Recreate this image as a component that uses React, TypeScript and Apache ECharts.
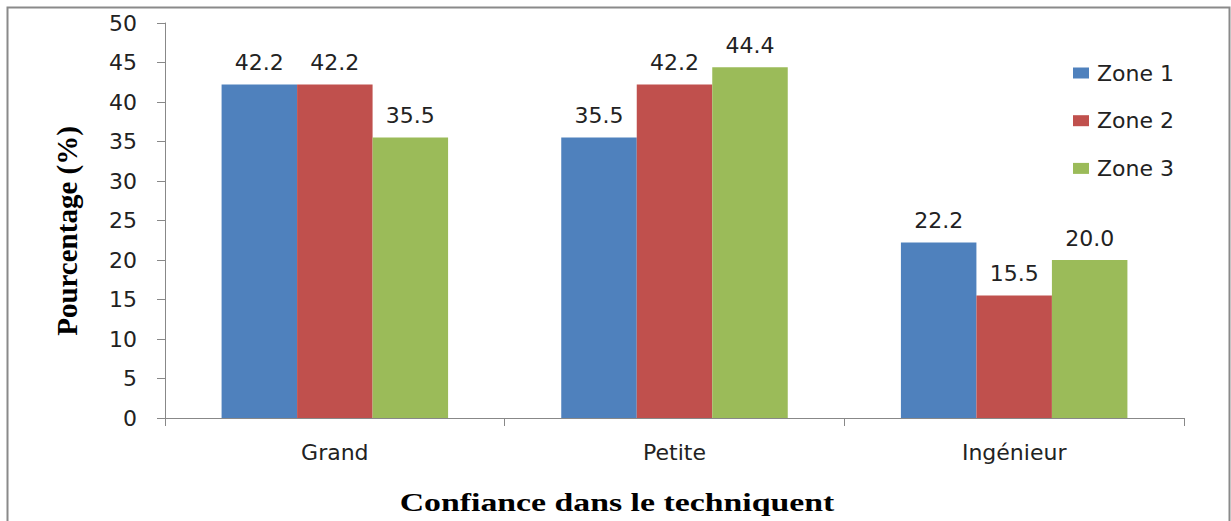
import React, { useEffect, useRef } from "react";
import * as echarts from "echarts";

const categories = ["Grand", "Petite", "Ingénieur"];
const seriesNames = ["Zone 1", "Zone 2", "Zone 3"];
const zone1 = [42.2, 35.5, 22.2];
const zone2 = [42.2, 42.2, 15.5];
const zone3 = [35.5, 44.4, 20.0];
const colors = ["#4F81BD", "#C0504D", "#9BBB59"];
const yTitle = "Pourcentage (%)";
const xTitle = "Confiance dans le techniquent";

const SANS = "DejaVu Sans";
const SERIF = "Liberation Serif";

export default function App() {
  const ref = useRef<HTMLDivElement>(null);
  useEffect(() => {
    if (!ref.current) return;
    const chart = echarts.init(ref.current, undefined, { renderer: "svg" });
    const values = [zone1, zone2, zone3];
    chart.setOption({
      animation: false,
      backgroundColor: "#ffffff",
      grid: { left: 165, right: 47, top: 23, bottom: 103 },
      legend: {
        orient: "vertical",
        left: 1073,
        top: 62,
        padding: 0,
        itemWidth: 16,
        itemHeight: 11,
        itemGap: 25.7,
        icon: "rect",
        textStyle: { fontFamily: SANS, fontSize: 22, color: "#222", lineHeight: 20, padding: [0, 0, 0, 3] },
        data: seriesNames,
      },
      xAxis: {
        type: "category",
        data: categories,
        axisLine: { lineStyle: { color: "#888", width: 1 } },
        axisTick: { show: true, length: 8, lineStyle: { color: "#888" } },
        axisLabel: { fontFamily: SANS, fontSize: 22, color: "#222", margin: 23 },
      },
      yAxis: {
        type: "value",
        min: 0,
        max: 50,
        interval: 5,
        splitLine: { show: false },
        axisLine: { show: true, lineStyle: { color: "#888", width: 1 } },
        axisTick: { show: true, length: 8, lineStyle: { color: "#888" } },
        axisLabel: { fontFamily: SANS, fontSize: 22, color: "#222", margin: 28 },
      },
      series: seriesNames.map((name, i) => ({
        name,
        type: "bar",
        data: values[i],
        barWidth: 75.5,
        barGap: "0%",
        itemStyle: { color: colors[i] },
        label: {
          show: true,
          position: "top",
          distance: 11,
          formatter: (p: any) => Number(p.value).toFixed(1),
          fontFamily: SANS,
          fontSize: 22,
          color: "#222",
        },
      })),
      graphic: [
        {
          type: "rect",
          shape: { x: 7.5, y: 7.5, width: 1222, height: 540 },
          style: { fill: "none", stroke: "#8a8a8a", lineWidth: 2 },
          silent: true,
        },
        {
          type: "text",
          x: 67,
          y: 231,
          rotation: Math.PI / 2,
          style: {
            text: yTitle,
            font: `bold 29px "${SERIF}"`,
            fill: "#000",
            textAlign: "center",
            textVerticalAlign: "middle",
            align: "center",
            verticalAlign: "middle",
          },
        },
        {
          type: "text",
          x: 617,
          y: 502,
          scaleX: 1.3,
          style: {
            text: xTitle,
            font: `bold 26px "${SERIF}"`,
            fill: "#000",
            textAlign: "center",
            textVerticalAlign: "middle",
            align: "center",
            verticalAlign: "middle",
          },
        },
      ],
    });
    return () => chart.dispose();
  }, []);
  return (
    <div
      ref={ref}
      style={{ position: "absolute", left: 0, top: 0, width: 1231, height: 521 }}
    />
  );
}
